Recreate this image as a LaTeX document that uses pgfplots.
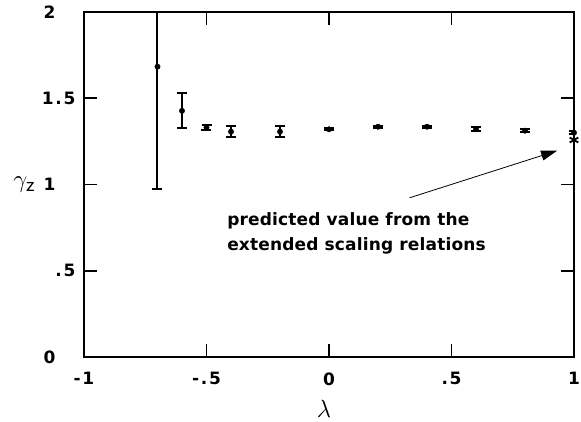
\documentclass[border=0pt]{standalone}
\usepackage{pgfplots}
\pgfplotsset{compat=1.18}
\usepackage{pgfplotstable}
\usetikzlibrary{arrows.meta}
\usepackage{fontspec}
\newfontfamily\chartfont[LetterSpace=1]{DejaVu Sans Bold}
\newfontfamily\tickfont[LetterSpace=10]{DejaVu Sans Bold}

% lambda, gamma_z, error
\pgfplotstableread{
x     y      e
-0.7  1.683  0.711
-0.6  1.427  0.102
-0.5  1.330  0.014
-0.4  1.306  0.032
-0.2  1.306  0.032
0.0   1.320  0.005
0.2   1.335  0.005
0.4   1.335  0.005
0.6   1.322  0.010
0.8   1.312  0.010
1.0   1.300  0.010
}\gammadata

\begin{document}
\begin{tikzpicture}
  \begin{axis}[
      scale only axis,
      width=490pt, height=345pt,
      xmin=-1, xmax=1, ymin=0, ymax=2,
      xtick={-1,-0.5,0,0.5,1},
      xticklabels={-1,-.5,0,.5,1},
      ytick={0,0.5,1,1.5,2},
      yticklabels={0\phantom{.5},.5,1\phantom{.5},1.5,2\phantom{.5}},
      tick align=inside,
      major tick length=13pt,
      tick style={line width=1.8pt, black},
      axis line style={line width=2pt},
      tick label style={font=\tickfont\fontsize{17}{20}\selectfont},
      yticklabel style={anchor=east, xshift=-5pt},
      xticklabel style={yshift=-12pt},
      xlabel={$\lambda$},
      ylabel={$\gamma_{\mathsf{z}}$},
      label style={font=\fontsize{30}{32}\selectfont},
      xlabel style={at={(axis description cs:0.49,-0.15)}, anchor=center},
      ylabel style={rotate=-90, at={(axis description cs:-0.122,0.5)}, anchor=center},
    ]
    \coordinate (sw) at (rel axis cs:0,0);
    \coordinate (ne) at (rel axis cs:1,1);
    \addplot[only marks, mark=*, mark size=2.7pt, black,
      error bars/.cd, y dir=both, y explicit,
      error bar style={line width=2pt},
      error mark options={rotate=90, mark size=5pt, line width=2pt}]
      table[x=x, y=y, y error=e] {\gammadata};
    \addplot[only marks, mark=asterisk, mark size=5pt, line width=1.8pt, black]
      coordinates {(1.0,1.258)};
    \draw[line width=0.8pt, -{Triangle[length=16pt,width=10pt]}]
      (axis cs:0.329,0.923) -- (axis cs:0.931,1.196);
    \node[anchor=west, align=left, inner sep=0pt,
      font=\chartfont\fontsize{17}{25}\selectfont]
      at (axis cs:-0.416,0.715) {predicted value from the\\extended scaling relations};
  \end{axis}
  \pgfresetboundingbox
  \path ([shift={(-84pt,-64pt)}]sw) rectangle ([shift={(7pt,12pt)}]ne);
\end{tikzpicture}
\end{document}
